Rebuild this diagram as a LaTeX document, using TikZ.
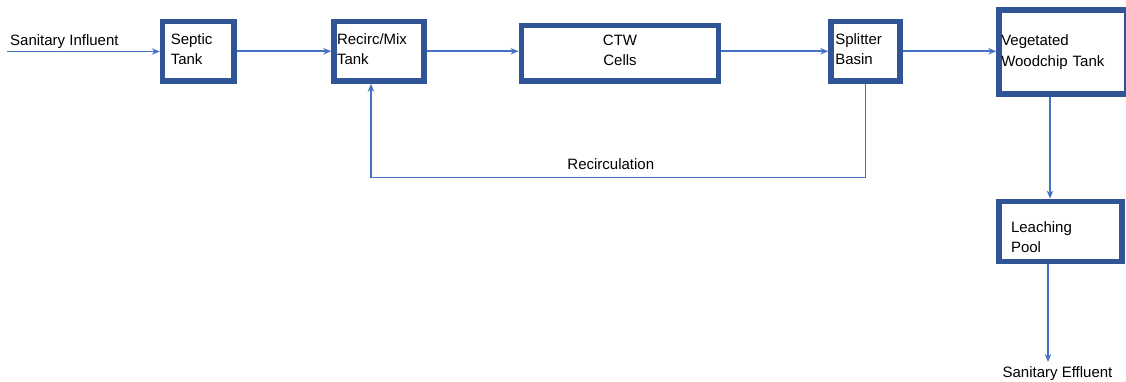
\documentclass[tikz,border=0pt]{standalone}
\usepackage{fontspec}
\setmainfont{Liberation Sans}
\usepackage{tikz}
\usetikzlibrary{arrows.meta}
\tikzset{>={Stealth[length=8pt,width=6.5pt]}}
\definecolor{tankblue}{RGB}{47,85,151}
\definecolor{flowblue}{RGB}{68,114,196}
\tikzset{
  tank/.style={draw=tankblue, line width=5.5pt, fill=white, align=left, inner ysep=0pt, font=\fontsize{15}{20.5}\selectfont},
  flow/.style={->, draw=flowblue, line width=1.6pt},
  tag/.style={font=\fontsize{15}{17}\selectfont, inner sep=0pt}
}

\begin{document}
\begin{tikzpicture}[x=1pt,y=-1pt]
\useasboundingbox (0,0) rectangle (1126,381);

% treatment train
\node[tank, minimum width=71.5pt, minimum height=59.5pt, text width=55pt, inner xsep=8.2pt] (septic) at (198.25,51.25) {Septic\\Tank\rule[-4pt]{0pt}{4pt}};
\node[tank, minimum width=90pt, minimum height=59.5pt, text width=84pt, inner xsep=2.7pt] (mix) at (379,51.25) {Recirc/Mix\\Tank\rule[-4pt]{0pt}{4pt}};
\node[tank, align=center, minimum width=197.4pt, minimum height=55.7pt, text width=180pt, inner xsep=8.7pt] (ctw) at (620,53.15) {CTW\\Cells\rule[-6pt]{0pt}{6pt}};
\node[tank, minimum width=69pt, minimum height=59.5pt, text width=60.5pt, inner xsep=4pt] (split) at (865.5,51.25) {Splitter\\Basin\rule[-4pt]{0pt}{4pt}};
\node[tank, minimum width=128pt, minimum height=84pt, text width=123.5pt, inner xsep=2pt] (veg) at (1063,52) {Vegetated\\Woodchip Tank};
\node[tank, minimum width=123pt, minimum height=60pt, text width=99pt, inner xsep=11.7pt] (leach) at (1060.5,231.4) {\rule{0pt}{22pt}Leaching\\Pool};

% in and out
\node[tag, anchor=base west] (inlab) at (10,45) {Sanitary Influent};
\coordinate (in) at (7,51.5);
\coordinate (out) at (1048,362);
\node[tag, anchor=north] (eff) at (1057.5,366) {Sanitary Effluent};
\coordinate (loop) at (0,177.5);

\draw[flow] (in) -- (in -| septic.west);
\draw[flow] (septic) -- (mix);
\draw[flow] (mix.east) -- (mix.east -| ctw.west);
\draw[flow] (split.west -| ctw.east) -- (split.west);
\draw[flow] (split.east) -- (split.east -| veg.west);
\draw[flow] ([xshift=-13pt]veg.south) -- ([xshift=-13pt]veg.south |- leach.north);
\draw[flow] (leach.south -| out) -- (out);

% recirculation loop
\draw[flow] (split.south) -- (split.south |- loop) -- ([xshift=-8pt]mix.south |- loop)
  node[tag, pos=.515, above=7.5pt] (rclab) {Recirculation} -- ([xshift=-8pt]mix.south);

\end{tikzpicture}
\end{document}
